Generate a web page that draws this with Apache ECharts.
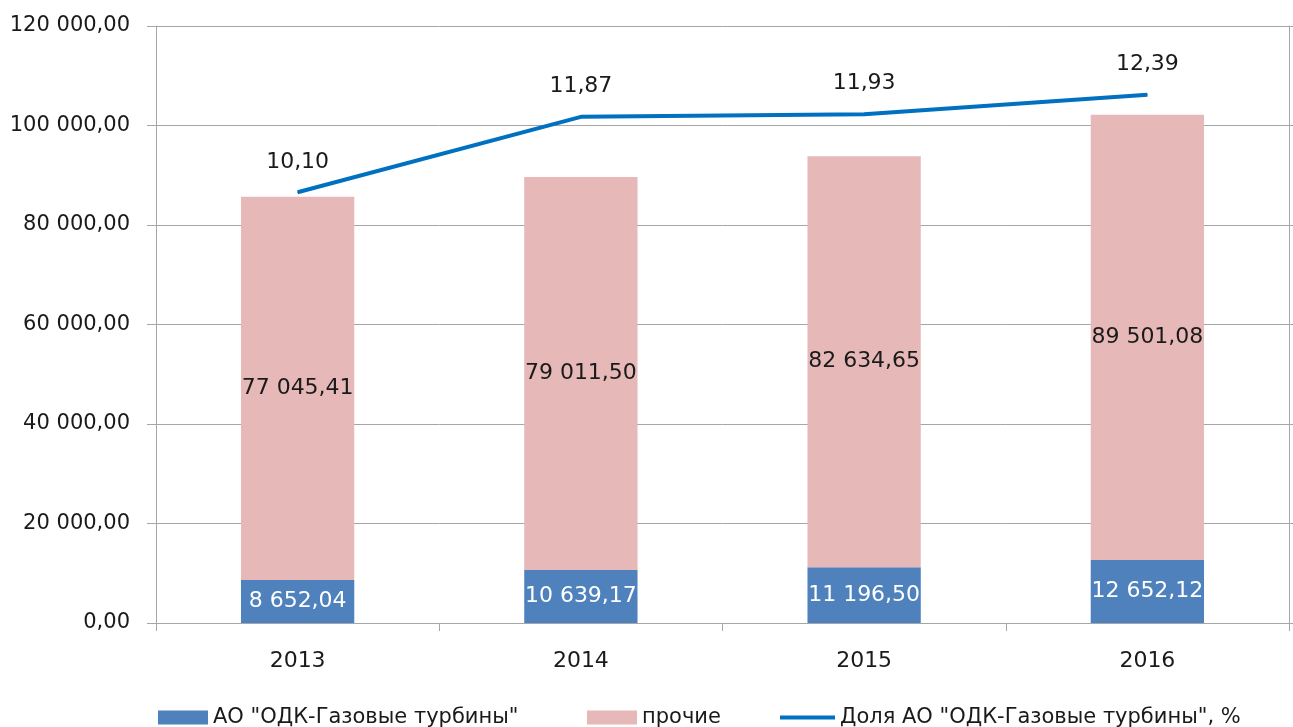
<!DOCTYPE html>
<html>
<head>
<meta charset="utf-8">
<script src="https://cdn.jsdelivr.net/npm/echarts@6/dist/echarts.min.js"></script>
<style>
html,body{margin:0;padding:0;background:#fff;}
#chart{width:1293px;height:727px;}
</style>
</head>
<body>
<div id="chart"></div>
<script>
var categories = ['2013', '2014', '2015', '2016'];
var odkValues = [8652.04, 10639.17, 11196.50, 12652.12];
var otherValues = [77045.41, 79011.50, 82634.65, 89501.08];
var shareValues = [10.10, 11.87, 11.93, 12.39];
var seriesNames = ['АО "ОДК-Газовые турбины"', 'прочие', 'Доля АО "ОДК-Газовые турбины", %'];

function fmt(v) {
  var p = Number(v).toFixed(2).split('.');
  var s = p[0].replace(/\B(?=(\d{3})+(?!\d))/g, ' ');
  return s + ',' + p[1];
}

var FONT = 'DejaVu Sans';
var GRIDC = '#A6A6A6';
var TXT = '#1a1a1a';

var chart = echarts.init(document.getElementById('chart'), null, {renderer: 'canvas'});
chart.setOption({
  animation: false,
  textStyle: {fontFamily: FONT},
  grid: {left: 156, right: 4, top: 26, bottom: 104},
  legend: [
    {show: true, data: [seriesNames[0]], left: 153, top: 702, itemWidth: 50, itemHeight: 14, icon: 'rect', itemGap: 0,
     textStyle: {fontFamily: FONT, fontSize: 21, color: TXT}},
    {show: true, data: [seriesNames[1]], left: 582, top: 702, itemWidth: 50, itemHeight: 14, icon: 'rect', itemGap: 0,
     textStyle: {fontFamily: FONT, fontSize: 21, color: TXT}},
    {show: true, data: [seriesNames[2]], left: 775, top: 702, itemWidth: 55, itemHeight: 4, icon: 'rect', itemGap: 0,
     textStyle: {fontFamily: FONT, fontSize: 21, color: TXT}}
  ],
  xAxis: {
    type: 'category',
    data: categories,
    boundaryGap: true,
    axisLine: {show: true, lineStyle: {color: GRIDC, width: 1}},
    axisTick: {show: true, length: 8, alignWithLabel: false, lineStyle: {color: GRIDC}},
    axisLabel: {fontFamily: FONT, fontSize: 22, color: TXT, margin: 27}
  },
  yAxis: [
    {
      type: 'value', min: 0, max: 120000, interval: 20000,
      axisLine: {show: true, lineStyle: {color: GRIDC}},
      axisTick: {show: true, length: 9, lineStyle: {color: GRIDC}},
      splitLine: {show: true, lineStyle: {color: GRIDC, width: 1}},
      axisLabel: {fontFamily: FONT, fontSize: 21, color: TXT, margin: 26, formatter: function (v) { return fmt(v); }}
    },
    {
      type: 'value', min: 0, max: 14, interval: 14 / 6, position: 'right',
      axisLine: {show: true, lineStyle: {color: GRIDC}},
      axisTick: {show: true, length: 5, lineStyle: {color: GRIDC}},
      splitLine: {show: false},
      axisLabel: {show: false}
    }
  ],
  series: [
    {
      name: seriesNames[0], type: 'bar', stack: 'total', data: odkValues, barWidth: '40%',
      itemStyle: {color: '#4F81BD'},
      label: {show: true, position: 'inside', color: '#ffffff', fontFamily: FONT, fontSize: 22, formatter: function (p) { return fmt(p.value); }}
    },
    {
      name: seriesNames[1], type: 'bar', stack: 'total', data: otherValues, barWidth: '40%',
      itemStyle: {color: '#E6B9B8'},
      label: {show: true, position: 'inside', color: TXT, fontFamily: FONT, fontSize: 22, formatter: function (p) { return fmt(p.value); }}
    },
    {
      name: seriesNames[2], type: 'line', yAxisIndex: 1, data: shareValues,
      symbol: 'circle', symbolSize: 1, showSymbol: true, smooth: false,
      lineStyle: {color: '#0070C0', width: 4},
      itemStyle: {color: '#0070C0'},
      label: {show: true, position: 'top', distance: 19, color: TXT, fontFamily: FONT, fontSize: 22, formatter: function (p) { return fmt(p.value); }}
    }
  ]
});
</script>
</body>
</html>
